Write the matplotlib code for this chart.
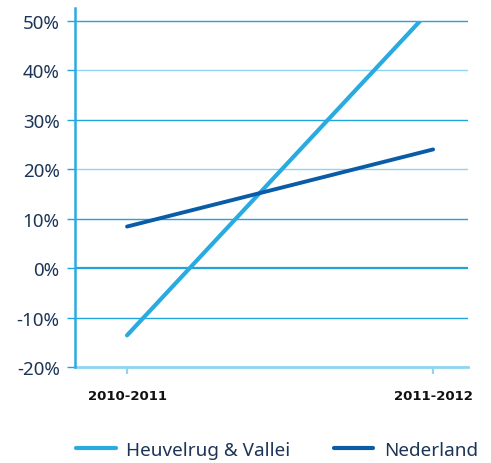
import matplotlib
matplotlib.use('Agg')
import matplotlib.pyplot as plt
from matplotlib.patches import Rectangle

periods = ['2010-2011', '2011-2012']
heuvelrug = [-13.6, 52.8]
nederland = [8.4, 24.0]
y_levels = [-20, -10, 0, 10, 20, 30, 40, 50]

light_blue = '#29abe2'
dark_blue = '#0a5ca8'
grid_dark = '#23a3dc'
grid_light = '#8fd4f0'
navy = '#1c3557'

fig = plt.figure(figsize=(4.91, 4.64), dpi=100)
ax = fig.add_axes([75 / 491, 1 - 368 / 464, 393 / 491, 359 / 464])

x = list(range(len(periods)))

# horizontal guides, alternating shades; the zero line a bit heavier
for lvl in y_levels[1:]:
    col = grid_light if lvl in (20, 40) else grid_dark
    lw = 1.6 if lvl == 0 else 1.0
    ax.axhline(lvl, color=col, lw=lw, zorder=1)

clip = Rectangle((-1, -20), 3, 70, transform=ax.transData, visible=False)
ax.add_patch(clip)

l1, = ax.plot(x, heuvelrug, color=light_blue, lw=3.0, solid_capstyle='round',
              label='Heuvelrug & Vallei', zorder=3)
l1.set_clip_path(clip)
ax.plot(x, nederland, color=dark_blue, lw=2.8, solid_capstyle='round',
        label='Nederland', zorder=3)

ax.set_xlim(-0.17, 1.114)
ax.set_ylim(-20, 52.6)

ax.set_yticks(y_levels)
ax.set_yticklabels([f'{v}%' for v in y_levels], fontsize=13.5, color=navy,
                   family='Noto Sans', fontweight='light')
ax.tick_params(axis='y', length=6, width=1.0, color=grid_dark, pad=5)

ax.set_xticks(x)
ax.set_xticklabels(periods, fontsize=9.5, fontweight='bold', color='#111111',
                   family='DejaVu Sans')
ax.tick_params(axis='x', length=5, width=1.6, color=grid_light, pad=11)

for side in ('top', 'right'):
    ax.spines[side].set_visible(False)
ax.spines['left'].set_color(light_blue)
ax.spines['left'].set_linewidth(1.8)
ax.spines['bottom'].set_color(grid_light)
ax.spines['bottom'].set_linewidth(2.0)
ax.spines['left'].set_zorder(4)

leg = fig.legend(loc='center left', bbox_to_anchor=(59 / 491, 1 - 451 / 464),
                 ncol=2, frameon=False, handlelength=2.1, handletextpad=0.55,
                 columnspacing=2.3, prop={'family': 'Noto Sans', 'size': 13.6})
for line in leg.get_lines():
    line.set_linewidth(3.0)
for txt in leg.get_texts():
    txt.set_color(navy)

fig.savefig('out.png', dpi=100)
